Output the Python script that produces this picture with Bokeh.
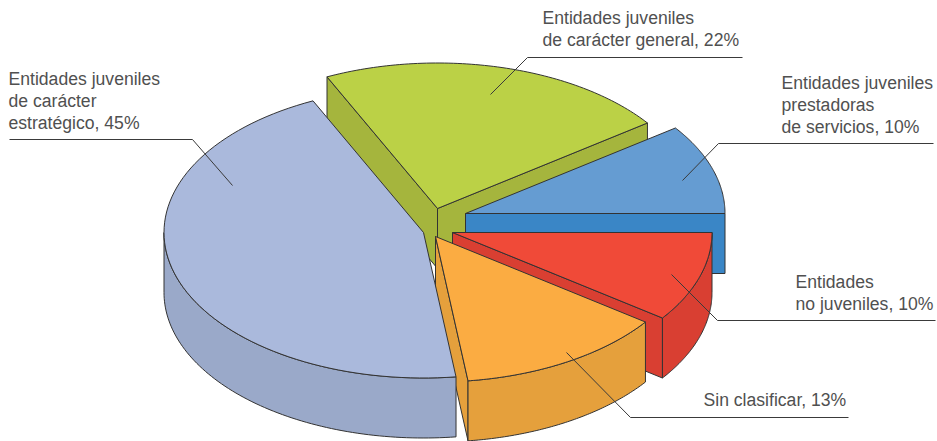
import math
from bokeh.plotting import figure
from bokeh.models import ColumnDataSource
from bokeh.core.properties import value
from bokeh.embed import file_html
from bokeh.resources import INLINE

# Data, clockwise on screen starting at the 3 o'clock direction
categories = ["Entidades no juveniles", "Sin clasificar", "Entidades juveniles de carácter estratégico",
              "Entidades juveniles de carácter general", "Entidades juveniles prestadoras de servicios"]
shares = [10, 13, 45, 22, 10]

# Styling and layout
top_colors = ["#f04a38", "#fbac42", "#aab9dc", "#bbd146", "#659cd2"]
wall_colors = ["#d93f32", "#e5a03c", "#9aa9c9", "#a5b53d", "#3a86c6"]
centers = [(452, 232), (435, 236), (423, 232), (437, 208), (465, 213)]
draw_order = [3, 4, 0, 1, 2]
RX, RY, DEPTH = 259.5, 145.5, 60
STROKE = "#333333"

label_lines = ["Entidades juveniles", "de carácter", "estratégico, 45%",
               "Entidades juveniles", "de carácter general, 22%",
               "Entidades juveniles", "prestadoras", "de servicios, 10%",
               "Entidades", "no juveniles, 10%",
               "Sin clasificar, 13%"]
label_x = [8, 8, 8, 542, 542, 781, 781, 781, 795, 795, 703]
label_y = [78.5, 100.5, 122, 17.5, 39.5, 82, 104.5, 126.5, 281.5, 303.5, 399.5]

leader_x = [[9, 192, 232], [742, 527, 490], [933, 718, 682], [935, 717, 671], [848, 630, 566]]
leader_y = [[139, 139, 185], [57, 57, 94], [143, 143, 180], [320, 320, 274], [417, 417, 352]]


def arc(cx, cy, a, b, dy=0, n=80):
    return [(cx + RX * math.cos(a + (b - a) * i / n), cy + dy + RY * math.sin(a + (b - a) * i / n))
            for i in range(n + 1)]


edges = []
acc = 0
for s in shares:
    edges.append((math.radians(acc * 3.6), math.radians((acc + s) * 3.6)))
    acc += s

xs, ys, fills = [], [], []


def add(points, color):
    xs.append([q[0] for q in points])
    ys.append([q[1] for q in points])
    fills.append(color)


for i in draw_order:
    cx, cy = centers[i]
    a, b = edges[i]
    tc, wc = top_colors[i], wall_colors[i]
    # cut faces that look towards the viewer
    for ang, visible in ((a, math.cos(a) < 0), (b, math.cos(b) > 0)):
        if visible:
            rim = (cx + RX * math.cos(ang), cy + RY * math.sin(ang))
            add([(cx, cy), rim, (rim[0], rim[1] + DEPTH), (cx, cy + DEPTH)], wc)
    # outer wall, front half of the ellipse only
    lo, hi = max(a, 0), min(b, math.pi)
    if hi > lo:
        add(arc(cx, cy, lo, hi) + arc(cx, cy, hi, lo, DEPTH), wc)
    # top face
    add([(cx, cy)] + arc(cx, cy, a, b), tc)

p = figure(width=937, height=441, x_range=(0, 937), y_range=(441, 0),
           output_backend="svg", toolbar_location=None, min_border=0)
p.axis.visible = False
p.grid.visible = False
p.outline_line_color = None
p.background_fill_color = "white"

p.patches(xs="xs", ys="ys", fill_color="fills", line_color=STROKE, line_width=1, line_join="miter",
          source=ColumnDataSource(dict(xs=xs, ys=ys, fills=fills)))
p.multi_line(xs=leader_x, ys=leader_y, line_color="#3a3a3a", line_width=1)
p.text(x=label_x, y=label_y, text=label_lines, text_font=value("Liberation Sans"),
       text_font_size="17.6px", text_color="#505050", text_baseline="alphabetic", text_align="left")

open("out.html", "w").write(file_html(p, INLINE))
